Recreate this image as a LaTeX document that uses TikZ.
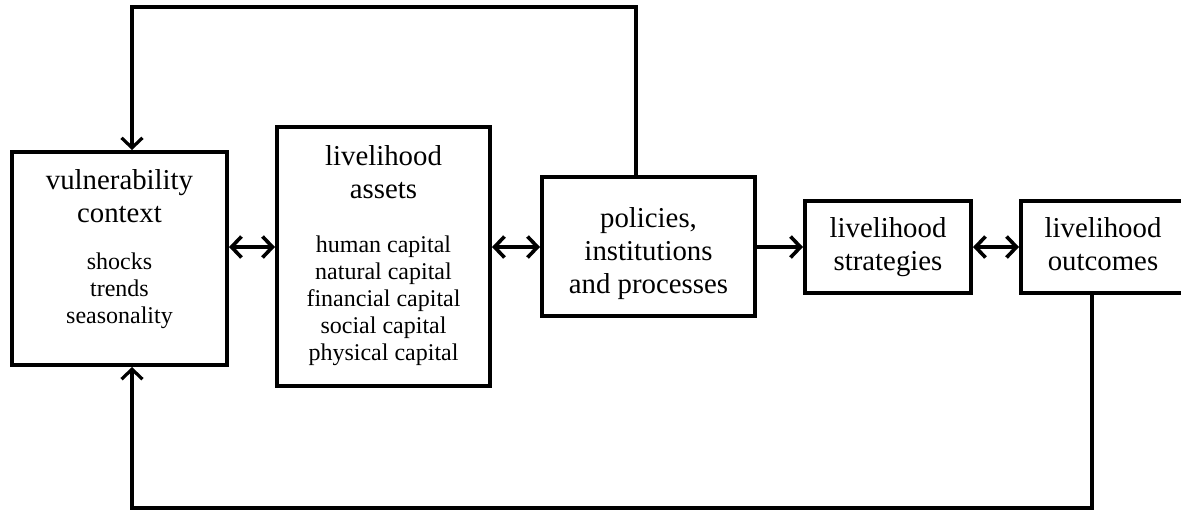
\documentclass[tikz,border=0pt]{standalone}
\usepackage{fontspec}
\setmainfont{Liberation Serif}
\usetikzlibrary{arrows.meta}
\tikzset{
  boxnode/.style={draw, line width=2pt, inner sep=0pt, fill=white},
  big/.style={font=\fontsize{14.4}{16.5}\selectfont, align=center, inner sep=0pt, anchor=base},
  small/.style={font=\fontsize{12}{13.5}\selectfont, align=center, inner sep=0pt, anchor=base},
  dbl/.style={line width=1.8pt, {Straight Barb[length=5pt,width=10.5pt]}-{Straight Barb[length=5pt,width=10.5pt]}},
  sgl/.style={line width=1.8pt, -{Straight Barb[length=5pt,width=10.5pt]}},
  fb/.style={line width=1.6pt, -{Straight Barb[length=5pt,width=10.5pt]}}
}
\begin{document}
\begin{tikzpicture}[x=0.5pt,y=-0.5pt]
\clip (0,0) rectangle (1181,510);
\fill[white] (0,0) rectangle (1181,510);
% boxes
\node[boxnode, minimum width=107.5pt, minimum height=106.5pt] (vul) at (119.5,258.5) {};
\node[boxnode, minimum width=106.5pt, minimum height=129.5pt] (assets) at (383.5,256.5) {};
\node[boxnode, minimum width=106.5pt, minimum height=69.5pt] (policies) at (648.5,246.5) {};
\node[boxnode, minimum width=83pt, minimum height=46pt] (strategies) at (888,247) {};
\node[boxnode, minimum width=82pt, minimum height=46pt] (outcomes) at (1103,247) {};
% texts (anchor base = baseline of last line)
\node[big] (vult) at (119.5,222) {vulnerability\\context};
\node[small] (vull) at (119.5,323) {shocks\\trends\\seasonality};
\node[big] (assetst) at (383.5,198) {livelihood\\assets};
\node[small] (assetsl) at (383.5,360) {human capital\\natural capital\\financial capital\\social capital\\physical capital};
\node[big] (polt) at (648.5,293) {policies,\\institutions\\and processes};
\node[big] (strt) at (888,270) {livelihood\\strategies};
\node[big] (outt) at (1103,270) {livelihood\\outcomes};
% connectors
\coordinate (mid) at (0,247);
\draw[dbl] (vul.east |- mid) -- (assets.west |- mid);
\draw[dbl] (assets.east |- mid) -- (policies.west |- mid);
\draw[sgl] (policies.east |- mid) -- (strategies.west |- mid);
\draw[dbl] (strategies.east |- mid) -- (outcomes.west |- mid);
\coordinate (tl) at (132,7);
\coordinate (tr) at (636,7);
\coordinate (bl) at (132,508);
\coordinate (br) at (1092,508);
\draw[fb] (policies.north -| tr) -- (tr) -- (tl) -- (vul.north -| tl);
\draw[fb] (outcomes.south -| br) -- (br) -- (bl) -- (vul.south -| bl);
\end{tikzpicture}
\end{document}
